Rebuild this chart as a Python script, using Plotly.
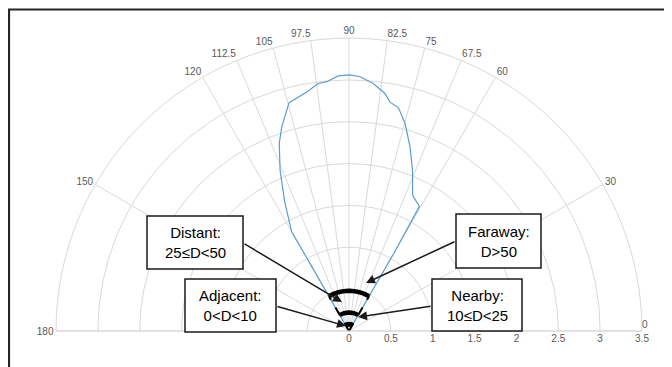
import plotly.graph_objects as go

W, H = 672, 367
OFF = 8  # page body margin shifts the figure by 8 px

# Blue lobe (angle in degrees, radius)
lobe_theta = [120, 120, 120, 116.6, 113.2, 110.4, 108.2, 104.7, 100.0, 97.1, 95.1, 92.4, 89.8,
              87.5, 84.4, 81.4, 79.9, 77.5, 74.9, 71.7, 68.5, 64.9, 60.5, 60, 60]
lobe_r = [0.0, 0.93, 1.37, 1.71, 2.09, 2.39, 2.57, 2.82, 2.90, 2.98, 2.99, 3.05, 3.06,
          3.04, 2.97, 2.87, 2.78, 2.73, 2.57, 2.32, 2.07, 1.79, 1.71, 1.07, 0.0]

# Distance-band arcs
arc_theta = [60, 67.5, 75, 82.5, 90, 97.5, 105, 112.5, 120]
band_names = ["Adjacent", "Nearby", "Distant"]
band_r = [0.08, 0.22, 0.48]
band_width = [5, 4.5, 4.5]
edge_theta = [60, 120]

# Axis ticks
ang_ticks = [0, 30, 60, 67.5, 75, 82.5, 90, 97.5, 105, 112.5, 120, 150, 180]
rad_ticks = [0, 0.5, 1, 1.5, 2, 2.5, 3, 3.5]

# Label boxes: text, box (x0, y0, x1, y1) in px, arrow tail, arrow head in px
labels = [
    ("Distant:<br>25≤D<50", (147, 216, 243, 269), (243, 243), (342, 302)),
    ("Adjacent:<br>0<D<10", (185, 279, 276, 332), (276, 306), (346, 326)),
    ("Faraway:<br>D>50", (456, 214, 541, 268), (456, 241), (366, 283)),
    ("Nearby:<br>10≤D<25", (432, 279, 522, 331), (432, 306), (358, 317)),
]


def px(x):
    return (x - OFF) / W


def py(y):
    return 1 - (y - OFF) / H


fig = go.Figure()

fig.add_trace(go.Scatterpolar(
    r=lobe_r, theta=lobe_theta, mode="lines",
    line=dict(color="#5B9BD5", width=1.2), showlegend=False, hoverinfo="skip"))

for t in edge_theta:
    fig.add_trace(go.Scatterpolar(
        r=[0, band_r[-1]], theta=[t, t], mode="lines",
        line=dict(color="black", width=2, dash="dash"), showlegend=False, hoverinfo="skip"))

for name, rr, lw in zip(band_names, band_r, band_width):
    fig.add_trace(go.Scatterpolar(
        r=[rr] * len(arc_theta), theta=arc_theta, mode="lines", name=name,
        line=dict(color="black", width=lw), showlegend=False, hoverinfo="skip"))

shapes = [
    dict(type="path", xref="paper", yref="paper",
         path=f"M {px(9)},{py(400)} L {px(9)},{py(9.5)} L {px(700)},{py(9.5)}",
         line=dict(color="#262626", width=2.2)),
]
annotations = []
for text, (x0, y0, x1, y1), tail, head in labels:
    shapes.append(dict(type="rect", xref="paper", yref="paper",
                       x0=px(x0), x1=px(x1), y0=py(y1), y1=py(y0),
                       line=dict(color="#1a1a1a", width=1.5), fillcolor="white", layer="above"))
    annotations.append(dict(xref="paper", yref="paper", x=px((x0 + x1) / 2), y=py((y0 + y1) / 2),
                            xanchor="center", yanchor="middle",
                            text=text, showarrow=False, align="center",
                            font=dict(family="Liberation Sans, Arial", size=15, color="black")))
    annotations.append(dict(xref="paper", yref="paper", x=px(head[0]), y=py(head[1]),
                            ax=tail[0] - head[0], ay=tail[1] - head[1], axref="pixel", ayref="pixel",
                            text="", showarrow=True, arrowhead=2, arrowsize=1.2, arrowwidth=1.5,
                            arrowcolor="#1a1a1a", standoff=0, startstandoff=0))

# angular "0" label placed just above the right end of the baseline
annotations.append(dict(xref="paper", yref="paper", x=px(645), y=py(324), xanchor="center",
                        yanchor="middle", text="0", showarrow=False,
                        font=dict(family="Liberation Sans, Arial", size=10, color="#595959")))

fig.update_layout(
    width=W, height=H,
    margin=dict(l=0, r=0, t=0, b=0),
    paper_bgcolor="white",
    font=dict(family="Liberation Sans, Arial", size=10, color="#595959"),
    polar=dict(
        domain=dict(x=[px(56), px(642)], y=[py(331), py(38)]),
        sector=[0, 180],
        bgcolor="white",
        radialaxis=dict(range=[0, 3.5], tickvals=rad_ticks, ticktext=[str(v) for v in rad_ticks],
                        showline=False, ticks="", gridcolor="#D9D9D9", gridwidth=1, angle=0,
                        side="clockwise", tickfont=dict(size=10, color="#595959")),
        angularaxis=dict(tickvals=ang_ticks,
                         ticktext=["" if v == 0 else str(v) for v in ang_ticks],
                         direction="counterclockwise", rotation=0, ticks="",
                         showline=True, linecolor="#D9D9D9", linewidth=1,
                         gridcolor="#D9D9D9", gridwidth=1,
                         tickfont=dict(size=10, color="#595959")),
    ),
    shapes=shapes,
    annotations=annotations,
)

fig.write_html("out.html")
